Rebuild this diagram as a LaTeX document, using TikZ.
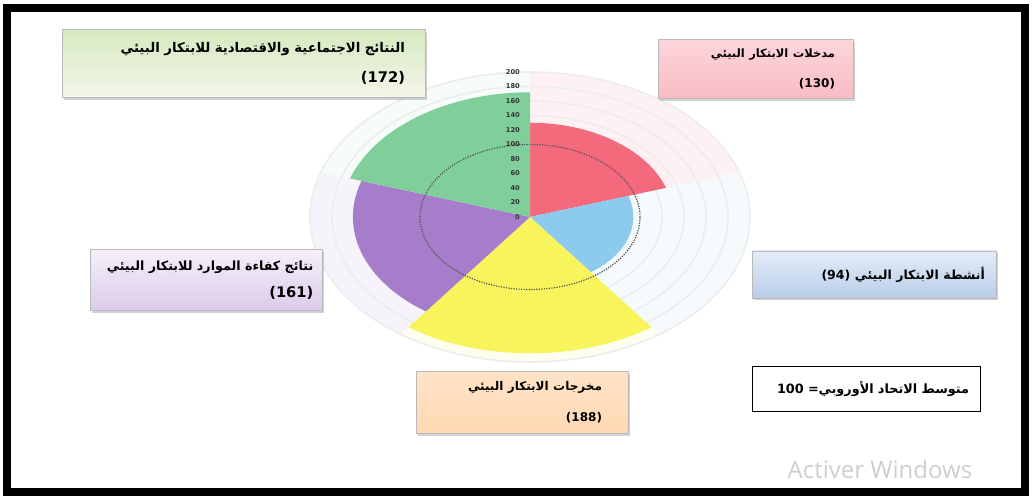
\documentclass[tikz,border=0pt]{standalone}
\usepackage{fontspec}
\setmainfont{DejaVu Sans}
\newfontfamily\arabicfont[Script=Arabic]{DejaVu Sans}
\newfontfamily\wmfont{Open Sans}
\TeXXeTstate=1
\usetikzlibrary{shadows}
\definecolor{secR}{HTML}{F26A7C}
\definecolor{secB}{HTML}{8DCBEE}
\definecolor{secY}{HTML}{F8F55C}
\definecolor{secP}{HTML}{A67DCB}
\definecolor{secG}{HTML}{80CF9B}
\definecolor{boxBt}{HTML}{E4ECF7}
\definecolor{boxBb}{HTML}{B9CDE9}
\newcommand{\AR}[1]{\beginR #1\endR}
\newcommand{\fs}[1]{\fontsize{#1}{#1}\selectfont}
\tikzset{
  abox/.style={rectangle, draw=gray!55, line width=0.5pt, align=right,
    font=\arabicfont\bfseries,
    drop shadow={shadow xshift=1.8pt, shadow yshift=-1.8pt, opacity=0.35}},
  ring/.style={draw=gray!14, line width=1.2pt},
  avg/.style={draw=gray!65!black, densely dotted, line width=0.9pt},
  axlab/.style={anchor=east, inner sep=0pt, font=\bfseries\fontsize{5}{6}\selectfont, text=black!80},
}
\begin{document}
\begin{tikzpicture}[x=0.75pt,y=0.75pt]
\useasboundingbox (0,0) rectangle (1033,498);
\fill[white] (0,0) rectangle (1033,498);
% chart
\begin{scope}[shift={(530,281)}, x=0.825pt, y=0.54375pt]
  \fill[secR!9] (0,0) -- (90:200) arc[start angle=90, delta angle=-72, radius=200] -- cycle;
  \fill[secB!9] (0,0) -- (18:200) arc[start angle=18, delta angle=-72, radius=200] -- cycle;
  \fill[secY!10] (0,0) -- (-54:200) arc[start angle=-54, delta angle=-72, radius=200] -- cycle;
  \fill[secP!9] (0,0) -- (-126:200) arc[start angle=-126, delta angle=-72, radius=200] -- cycle;
  \fill[secG!7] (0,0) -- (162:200) arc[start angle=162, delta angle=-72, radius=200] -- cycle;
  \foreach \r in {20,40,...,200} \draw[ring] (0,0) circle[radius=\r];
  \fill[secR] (0,0) -- (90:130) arc[start angle=90, delta angle=-72, radius=130] -- cycle;
  \fill[secB] (0,0) -- (18:94) arc[start angle=18, delta angle=-72, radius=94] -- cycle;
  \fill[secY] (0,0) -- (-54:188) arc[start angle=-54, delta angle=-72, radius=188] -- cycle;
  \fill[secP] (0,0) -- (-126:161) arc[start angle=-126, delta angle=-72, radius=161] -- cycle;
  \fill[secG] (0,0) -- (162:172) arc[start angle=162, delta angle=-72, radius=172] -- cycle;
  \draw[avg] (0,0) circle[radius=100];
  \foreach \v in {0,20,...,200} \node[axlab] (l\v) at (-9,\v) {\v};
\end{scope}
% boxes
\node[abox, top color=green!30!olive!25, bottom color=green!10!olive!8, minimum width=272.25pt, minimum height=51pt, inner xsep=15pt, text width=242.25pt] (soc) at (243.5,434.5)
  {\fs{10}\AR{النتائج الاجتماعية والاقتصادية للابتكار البيئي}\\[10pt]\fs{11}\beginL(172)\endL};
\node[abox, top color=secR!28, bottom color=secR!45, minimum width=146.25pt, minimum height=44.25pt, inner xsep=13.5pt, text width=119.25pt] (inp) at (755.5,429)
  {\fs{8.6}\AR{مدخلات الابتكار البيئي}\\[11pt]\fs{9}\beginL(130)\endL};
\node[abox, top color=boxBt, bottom color=boxBb, minimum width=183pt, minimum height=35.25pt, inner xsep=8.25pt, text width=166.5pt] (act) at (874,223.5)
  {\fs{9.4}\AR{أنشطة الابتكار البيئي \beginL(94)\endL}};
\node[abox, top color=secP!12, bottom color=secP!40, minimum width=174pt, minimum height=45.75pt, inner xsep=6.5pt, text width=161pt] (res) at (206,218)
  {\fs{9.5}\AR{نتائج كفاءة الموارد للابتكار البيئي}\\[8pt]\fs{11}\beginL(161)\endL};
\node[abox, top color=orange!22, bottom color=orange!30, minimum width=159pt, minimum height=46.5pt, inner xsep=19.5pt, text width=120pt] (out) at (522,95.5)
  {\fs{9}\AR{مخرجات الابتكار البيئي}\\[11pt]\fs{9}\beginL(188)\endL};
\node[rectangle, draw=black, line width=0.6pt, fill=white, align=right, font=\arabicfont\bfseries\fs{9.6}, minimum width=171pt, minimum height=33.75pt, inner xsep=8.25pt, text width=154.5pt] (eu) at (866,109)
  {\AR{متوسط الاتحاد الأوروبي= \beginL100\endL}};
% watermark
\node[font=\wmfont\fontsize{18}{20}\selectfont, text=gray!38] (wm) at (880,28) {Activer Windows};
% frame
\draw[black, line width=6pt] (7,6) rectangle (1025,490);
\end{tikzpicture}
\end{document}
